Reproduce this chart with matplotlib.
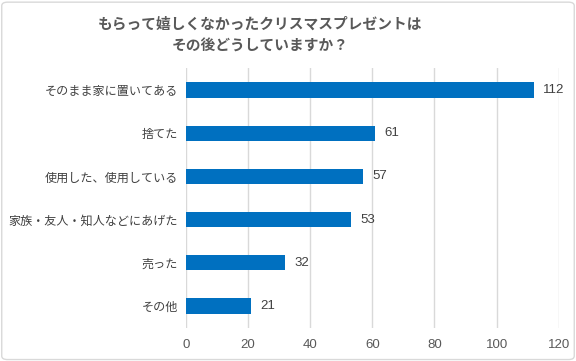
import matplotlib
matplotlib.use("Agg")
import matplotlib.pyplot as plt
from matplotlib.patches import FancyBboxPatch

plt.rcParams['font.family'] = ['Noto Sans CJK JP', 'DejaVu Sans']

categories = ["そのまま家に置いてある", "捨てた", "使用した、使用している",
              "家族・友人・知人などにあげた", "売った", "その他"]
values = [112, 61, 57, 53, 32, 21]
xticks = [0, 20, 40, 60, 80, 100, 120]
title = "もらって嬉しくなかったクリスマスプレゼントは\nその後どうしていますか？"

fig = plt.figure(figsize=(5.76, 3.61), dpi=100)
ax = fig.add_axes([0.323, 0.0925, 0.647, 0.718])

pos = list(range(len(categories)))
ax.barh(pos, values, height=0.35, color="#0070C0", zorder=3)
ax.set_ylim(len(categories) - 0.5, -0.5)
ax.set_xlim(0, 120)
ax.set_xticks(xticks)
ax.set_yticks(pos)
ax.set_yticklabels(categories, fontsize=8.7, color="#404040")
ax.tick_params(axis='x', labelsize=9.5, colors="#595959", length=0, pad=8)
ax.tick_params(axis='y', length=0, pad=6)
for lab in ax.get_xticklabels():
    lab.set_family(['Liberation Sans', 'DejaVu Sans'])
ax.grid(axis='x', color="#d9d9d9", linewidth=1, zorder=0)
for s in ax.spines.values():
    s.set_visible(False)

for p, v in zip(pos, values):
    ax.text(v + 3, p, str(v), va='center', ha='left', fontsize=9.5,
            color="#404040", family=['Liberation Sans', 'DejaVu Sans'])

fig.text(0.452, 0.905, title, ha='center', va='center', fontsize=10.6,
         fontweight='bold', color="#595959", linespacing=1.45)

border = FancyBboxPatch((0.003, 0.004), 0.994, 0.99, boxstyle="round,pad=0,rounding_size=0.01",
                        transform=fig.transFigure, fill=False, edgecolor="#d9d9d9", linewidth=1)
fig.patches.append(border)

fig.savefig("out.png", dpi=100)
